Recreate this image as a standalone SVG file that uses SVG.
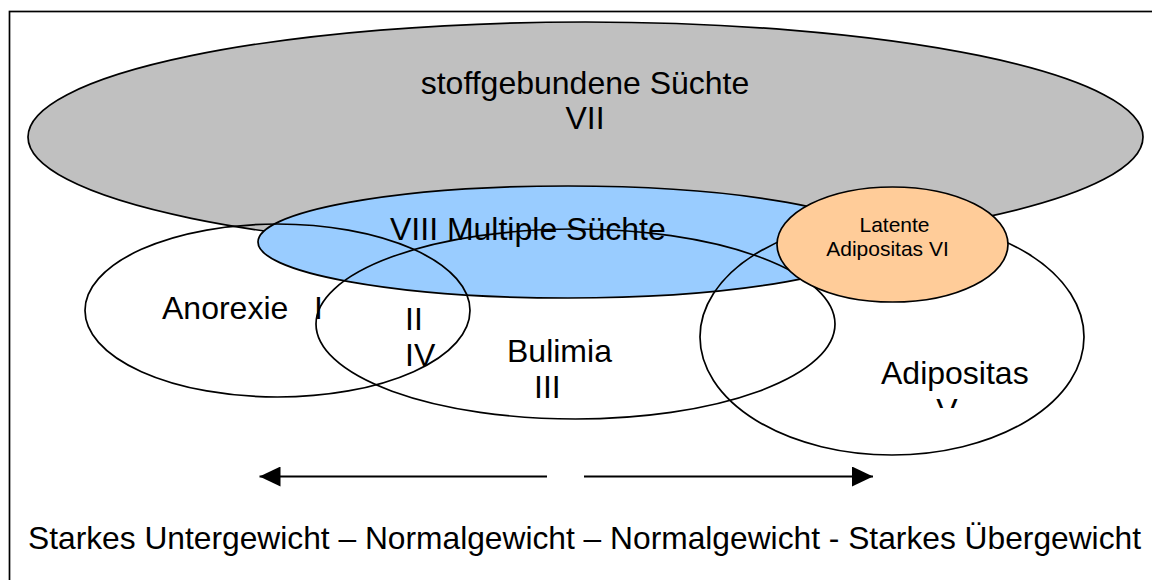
<svg xmlns="http://www.w3.org/2000/svg" width="1152" height="580" viewBox="0 0 1152 580">
  <defs>
    <style>
      .ol { stroke: #000; stroke-width: 1.7; }
      .open { fill: none; }
      .t { font-family: "Liberation Sans", Arial, sans-serif; font-size: 32px; fill: #000; }
      .ts { font-family: "Liberation Sans", Arial, sans-serif; font-size: 21px; fill: #000; }
      .mid { text-anchor: middle; }
      .arrow { stroke: #000; stroke-width: 2; fill: none; }
    </style>
    <marker id="head" viewBox="0 0 21 20" refX="21" refY="10" markerWidth="21" markerHeight="20" markerUnits="userSpaceOnUse" orient="auto">
      <path d="M0,0 L21,10 L0,20 Z" fill="#000"/>
    </marker>
    <clipPath id="vclip">
      <rect x="900" y="380" width="100" height="28"/>
    </clipPath>
  </defs>

  <rect x="9.5" y="11.5" width="1200" height="640" fill="#fff" stroke="#000" stroke-width="1.7"/>

  <g id="node-stoffgebunden">
    <ellipse class="ol" cx="585.5" cy="137" rx="557.5" ry="115" fill="#c0c0c0"/>
    <text class="t mid" x="585" y="94">stoffgebundene Süchte</text>
    <text class="t mid" x="585" y="129">VII</text>
  </g>

  <g id="node-multiple">
    <ellipse class="ol" cx="568" cy="242" rx="310" ry="56" fill="#99ccff"/>
    <text class="t" x="390" y="240">VIII Multiple Süchte</text>
  </g>

  <g id="node-anorexie">
    <ellipse class="ol open" cx="277.5" cy="310.5" rx="192.5" ry="86.5"/>
    <text class="t" x="162" y="319">Anorexie</text>
    <text class="t" x="314" y="319">I</text>
  </g>

  <g id="node-overlap">
    <text class="t" x="405" y="330">II</text>
    <text class="t" x="405" y="366">IV</text>
  </g>

  <g id="node-bulimia">
    <ellipse class="ol open" cx="575.5" cy="324" rx="259.5" ry="95"/>
    <text class="t" x="507" y="362">Bulimia</text>
    <text class="t" x="534" y="398">III</text>
  </g>

  <g id="node-adipositas">
    <ellipse class="ol open" cx="892" cy="337" rx="192" ry="118"/>
    <text class="t" x="881" y="384">Adipositas</text>
    <text class="t mid" x="947" y="421" clip-path="url(#vclip)">V</text>
  </g>

  <g id="node-latent">
    <ellipse class="ol" cx="892.5" cy="244.5" rx="115.5" ry="57.5" fill="#ffcc99"/>
    <text class="ts mid" x="894.5" y="232">Latente</text>
    <text class="ts mid" x="887.5" y="256">Adipositas VI</text>
  </g>

  <g id="connectors">
    <line class="arrow" x1="547" y1="476.5" x2="259.5" y2="476.5" marker-end="url(#head)"/>
    <line class="arrow" x1="584" y1="476.5" x2="873" y2="476.5" marker-end="url(#head)"/>
  </g>

  <text class="t" x="28" y="549" textLength="1113" lengthAdjust="spacingAndGlyphs">Starkes Untergewicht – Normalgewicht – Normalgewicht - Starkes Übergewicht</text>
</svg>
